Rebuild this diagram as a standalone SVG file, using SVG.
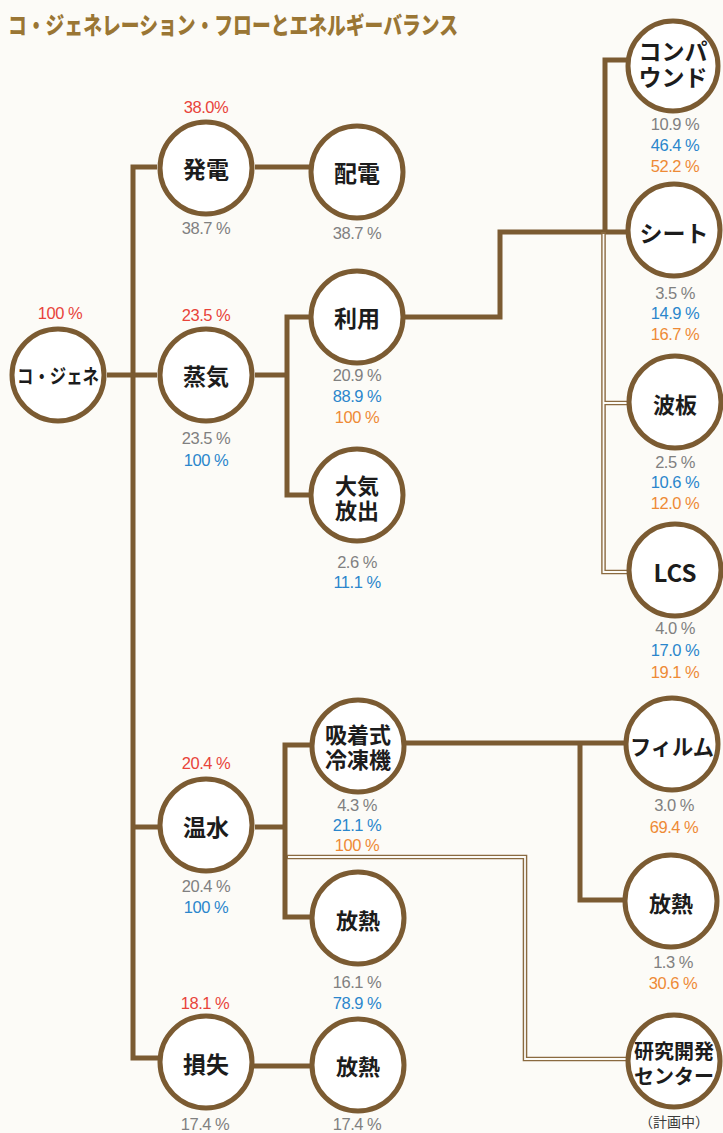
<svg xmlns="http://www.w3.org/2000/svg" width="723" height="1133" viewBox="0 0 723 1133">
<style>
.bg{fill:#fcfbf7}
.n{fill:#ffffff;stroke:#7b5b32;stroke-width:5}
.c{fill:none;stroke:#7b5b32;stroke-width:5;stroke-linejoin:miter}
.dd{fill:none;stroke:#8a6a40;stroke-width:4.6}
.di{fill:none;stroke:#fcfbf7;stroke-width:1.8}
.t{font-family:"Noto Sans CJK JP","Liberation Sans",sans-serif;font-weight:700;fill:#1c1c1c;text-anchor:middle;dominant-baseline:central}
.p{font-family:"Liberation Sans","Noto Sans",sans-serif;font-size:16.5px;text-anchor:middle;dominant-baseline:central;letter-spacing:-0.5px}
.g{fill:#808080}.b{fill:#2a86cc}.o{fill:#ee8a35}.r{fill:#e8433a}
.title{font-family:"Noto Sans CJK JP",sans-serif;font-weight:900;font-size:24px;fill:#9a7634;dominant-baseline:central}
</style>
<rect class="bg" x="0" y="0" width="723" height="1133"/>
<text class="title" x="8" y="23" textLength="450" lengthAdjust="spacingAndGlyphs">コ・ジェネレーション・フローとエネルギーバランス</text>

<g id="connectors">
  <path class="c" d="M157,167 H133 V1058 H158"/>
  <path class="c" d="M107,375 H157"/>
  <path class="c" d="M133,827 H158"/>
  <path class="c" d="M255,167 H310"/>
  <path class="c" d="M255,375 H287"/>
  <path class="c" d="M311,317 H287 V495 H311"/>
  <path class="c" d="M403,317 H500 V232 H628"/>
  <path class="c" d="M628,60 H605 V232"/>
  <path class="dd" d="M603.5,232 V572 H628 M603.5,403 H628"/>
  <path class="di" d="M603.5,234 V572 H628 M603.5,403 H628"/>
  <path class="c" d="M255,827 H285"/>
  <path class="c" d="M312,745 H285 V917 H312"/>
  <path class="c" d="M404,743 H627"/>
  <path class="c" d="M580,743 V900 H625"/>
  <path class="dd" d="M287,857 H525 V1059 H628"/>
  <path class="di" d="M288,857 H525 V1059 H628"/>
  <path class="c" d="M253,1066 H312"/>
</g>

<g id="cogene"><circle class="n" cx="58" cy="375" r="46"/><text class="t" x="58" y="375" font-size="20" textLength="82" lengthAdjust="spacingAndGlyphs">コ・ジェネ</text><text class="p r" x="60" y="313">100 %</text></g>

<g id="hatsuden"><circle class="n" cx="206" cy="168" r="46"/><text class="t" x="206" y="168" font-size="23">発電</text><text class="p r" x="206" y="107">38.0%</text><text class="p g" x="206" y="228">38.7 %</text></g>
<g id="haiden"><circle class="n" cx="357" cy="172" r="46"/><text class="t" x="357" y="172" font-size="23">配電</text><text class="p g" x="357" y="233">38.7 %</text></g>

<g id="jouki"><circle class="n" cx="206" cy="375" r="46"/><text class="t" x="206" y="375" font-size="23">蒸気</text><text class="p r" x="206" y="315">23.5 %</text><text class="p g" x="206" y="438">23.5 %</text><text class="p b" x="206" y="460">100 %</text></g>
<g id="riyou"><circle class="n" cx="357" cy="317" r="46"/><text class="t" x="357" y="317" font-size="23">利用</text><text class="p g" x="357" y="375">20.9 %</text><text class="p b" x="357" y="396">88.9 %</text><text class="p o" x="357" y="417">100 %</text></g>
<g id="taiki"><circle class="n" cx="357" cy="495" r="46"/><text class="t" font-size="22"><tspan x="357" y="484">大気</tspan><tspan x="357" y="509">放出</tspan></text><text class="p g" x="357" y="562">2.6 %</text><text class="p b" x="357" y="582">11.1 %</text></g>

<g id="compound"><circle class="n" cx="673" cy="66" r="45"/><text class="t" font-size="23"><tspan x="673" y="50">コンパ</tspan><tspan x="673" y="76">ウンド</tspan></text><text class="p g" x="675" y="124">10.9 %</text><text class="p b" x="675" y="145">46.4 %</text><text class="p o" x="675" y="166">52.2 %</text></g>
<g id="sheet"><circle class="n" cx="674" cy="230" r="46"/><text class="t" x="674" y="232" font-size="23">シート</text><text class="p g" x="675" y="293">3.5 %</text><text class="p b" x="675" y="313">14.9 %</text><text class="p o" x="675" y="334">16.7 %</text></g>
<g id="namiita"><circle class="n" cx="675" cy="402" r="46"/><text class="t" x="675" y="403" font-size="22">波板</text><text class="p g" x="675" y="462">2.5 %</text><text class="p b" x="675" y="482">10.6 %</text><text class="p o" x="675" y="503">12.0 %</text></g>
<g id="lcs"><circle class="n" cx="675" cy="570" r="46"/><text class="t" x="675" y="571" font-size="24" font-family="Liberation Sans,sans-serif">LCS</text><text class="p g" x="675" y="628">4.0 %</text><text class="p b" x="675" y="650">17.0 %</text><text class="p o" x="675" y="672">19.1 %</text></g>

<g id="onsui"><circle class="n" cx="206" cy="825" r="46"/><text class="t" x="206" y="826" font-size="23">温水</text><text class="p r" x="206" y="763">20.4 %</text><text class="p g" x="206" y="886">20.4 %</text><text class="p b" x="206" y="907">100 %</text></g>
<g id="reitouki"><circle class="n" cx="358" cy="746" r="46"/><text class="t" font-size="22"><tspan x="358" y="733">吸着式</tspan><tspan x="358" y="758">冷凍機</tspan></text><text class="p g" x="357" y="805">4.3 %</text><text class="p b" x="357" y="825">21.1 %</text><text class="p o" x="357" y="845">100 %</text></g>
<g id="hounetsu1"><circle class="n" cx="358" cy="918" r="46"/><text class="t" x="358" y="919" font-size="22">放熱</text><text class="p g" x="357" y="982">16.1 %</text><text class="p b" x="357" y="1003">78.9 %</text></g>
<g id="sonshitsu"><circle class="n" cx="206" cy="1062" r="46"/><text class="t" x="206" y="1063" font-size="23">損失</text><text class="p r" x="205" y="1003">18.1 %</text><text class="p g" x="205" y="1124">17.4 %</text></g>
<g id="hounetsu2"><circle class="n" cx="358" cy="1065" r="46"/><text class="t" x="358" y="1065" font-size="22">放熱</text><text class="p g" x="357" y="1124">17.4 %</text></g>
<g id="film"><circle class="n" cx="672" cy="744" r="46"/><text class="t" x="672" y="745" font-size="22" textLength="84" lengthAdjust="spacingAndGlyphs">フィルム</text><text class="p g" x="674" y="805">3.0 %</text><text class="p o" x="674" y="827">69.4 %</text></g>
<g id="hounetsu3"><circle class="n" cx="671" cy="901" r="46"/><text class="t" x="671" y="902" font-size="22">放熱</text><text class="p g" x="673" y="962">1.3 %</text><text class="p o" x="673" y="983">30.6 %</text></g>
<g id="kenkyu"><circle class="n" cx="674" cy="1061" r="46"/><text class="t" font-size="20"><tspan x="674" y="1050" textLength="80" lengthAdjust="spacingAndGlyphs">研究開発</tspan><tspan x="674" y="1075" textLength="80" lengthAdjust="spacingAndGlyphs">センター</tspan></text><text x="674" y="1121" font-family="Noto Sans CJK JP,sans-serif" font-size="14" fill="#3a3a3a" text-anchor="middle" dominant-baseline="central">（計画中）</text></g>
</svg>
